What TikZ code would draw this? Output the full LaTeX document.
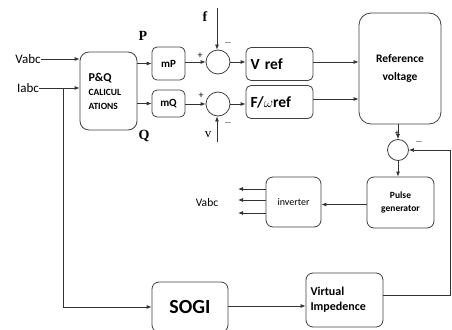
\documentclass[tikz,border=0pt]{standalone}
\usepackage{fontspec}
\setmainfont{Carlito}
\newfontfamily\tnr{Liberation Serif}
\usetikzlibrary{arrows.meta}
\begin{document}
\begin{tikzpicture}[x=1pt, y=-1pt, line width=0.8pt, draw=black!80,
  >={Latex[length=5pt,width=4pt]},
  box/.style={draw=black!75, rounded corners=5pt, align=center, inner sep=1pt},
  sum/.style={draw=black!75, circle, minimum size=24pt, inner sep=0pt},
  lbl/.style={inner sep=0pt, font=\fontsize{13}{14}\selectfont},
  sgn/.style={inner sep=0pt, font=\fontsize{10}{10}\selectfont}]
\clip (0,0) rectangle (452,329);
% inputs
\node[lbl] (vabc) at (28,59) {Vabc};
\node[lbl] (iabc) at (28,88) {Iabc};
\node[box, rounded corners=9pt, minimum width=57pt, minimum height=78pt, text width=40pt, align=left] (pq) at (108.5,91)
  {{\bfseries\fontsize{12}{14}\selectfont P\&Q}\\[2pt]{\bfseries\fontsize{9.5}{13}\selectfont CALICUL}\\[2pt]{\bfseries\fontsize{9.5}{13}\selectfont ATIONS}};
\node[lbl, font=\tnr\bfseries\fontsize{14}{14}\selectfont] (p) at (143,36) {P};
\node[lbl, font=\tnr\bfseries\fontsize{14}{14}\selectfont] (q) at (144,136) {Q};
% droop blocks
\node[box, minimum width=33pt, minimum height=33pt, font=\bfseries\fontsize{11}{12}\selectfont] (mp) at (168.5,63.5) {mP};
\node[box, minimum width=33pt, minimum height=27pt, font=\bfseries\fontsize{11}{12}\selectfont] (mq) at (168.5,103.5) {mQ};
\node[sum] (s1) at (218,62) {};
\node[sum] (s2) at (218,104) {};
\node[lbl, font=\tnr\bfseries\fontsize{14}{14}\selectfont] (f) at (205,17) {f};
\node[lbl, font=\tnr\fontsize{13}{14}\selectfont] (v) at (208,135) {v};
\coordinate (fin) at (217,8);
\coordinate (vin) at (217,142);
\node[sgn] at (200,56) {+};
\node[sgn] at (228,43) {$-$};
\node[sgn] at (201,96) {+};
\node[sgn] at (228,123) {$-$};
% references
\node[box, minimum width=67pt, minimum height=33pt, text width=58pt, align=left, font=\bfseries\fontsize{15.5}{18}\selectfont] (vref) at (279.5,64) {V ref};
\node[box, minimum width=67pt, minimum height=33pt, text width=58pt, align=left, font=\bfseries\fontsize{15.5}{18}\selectfont] (fref) at (279.5,102) {F/$\omega$ref};
\node[box, rounded corners=12pt, minimum width=82pt, minimum height=111pt, font=\bfseries\fontsize{11.5}{18}\selectfont] (rv) at (400,68.5) {Reference\\voltage};
\node[sum, minimum size=21pt] (s3) at (398,150) {};
\node[sgn] at (397,134) {+};
\node[sgn] at (419,142) {$-$};
% inverter side
\node[box, rounded corners=7pt, minimum width=67pt, minimum height=51pt, font=\bfseries\fontsize{9.5}{13}\selectfont] (pg) at (400.5,202.5) {Pulse\\generator};
\node[box, rounded corners=7pt, minimum width=55pt, minimum height=50pt, font=\fontsize{10}{12}\selectfont] (inv) at (293.5,202) {inverter};
\node[lbl, font=\fontsize{11.5}{12}\selectfont] (vout) at (207,203) {Vabc};
% feedback path
\node[box, rounded corners=7pt, minimum width=76pt, minimum height=50pt, font=\bfseries\fontsize{20}{22}\selectfont] (sogi) at (190,307) {SOGI};
\node[box, rounded corners=7pt, minimum width=77pt, minimum height=54pt, text width=68pt, align=left, font=\bfseries\fontsize{12}{15}\selectfont] (vi) at (344.5,300) {Virtual\\Impedence};
\coordinate (br) at (63,89);
\coordinate (fb) at (450,295);

\draw[->] (vabc.east) -- (vabc.east -| pq.west);
\draw[->] (iabc.east) -- (iabc.east -| pq.west);
\draw[->] (br) |- (sogi.west);
\draw[->] (pq.east |- mp.west) -- (mp.west);
\draw[->] (pq.east |- mq.west) -- (mq.west);
\draw[->] (mp.east |- s1.west) -- (s1.west);
\draw[->] (mq.east |- s2.west) -- (s2.west);
\draw[->] (fin) -- (fin |- s1.north);
\draw[->] (vin) -- (vin |- s2.south);
\draw[->] (s1.east) -- (s1.east -| vref.west);
\draw[->] (s2.east) -- (s2.east -| fref.west);
\draw[->] ([yshift=2pt]vref.east) -- ([yshift=2pt]vref.east -| rv.west);
\draw[->] ([yshift=3pt]fref.east) -- ([yshift=3pt]fref.east -| rv.west);
\draw[->] (s3.north |- rv.south) -- (s3.north);
\draw[->] (s3.south) -- (s3.south |- pg.north);
\draw[->] ([yshift=-2pt]pg.west) -- ([yshift=-2pt]pg.west -| inv.east);
\foreach \i/\y in {1/189,2/200,3/213} {
  \coordinate (o\i) at (238,\y);
  \draw[->] (inv.west |- o\i) -- (o\i);
}
\draw[->] ([yshift=1pt]sogi.east) -- ([yshift=1pt]sogi.east -| vi.west);
\draw[->] ([yshift=5pt]vi.east) -- (fb) |- (s3.east);
\end{tikzpicture}
\end{document}
